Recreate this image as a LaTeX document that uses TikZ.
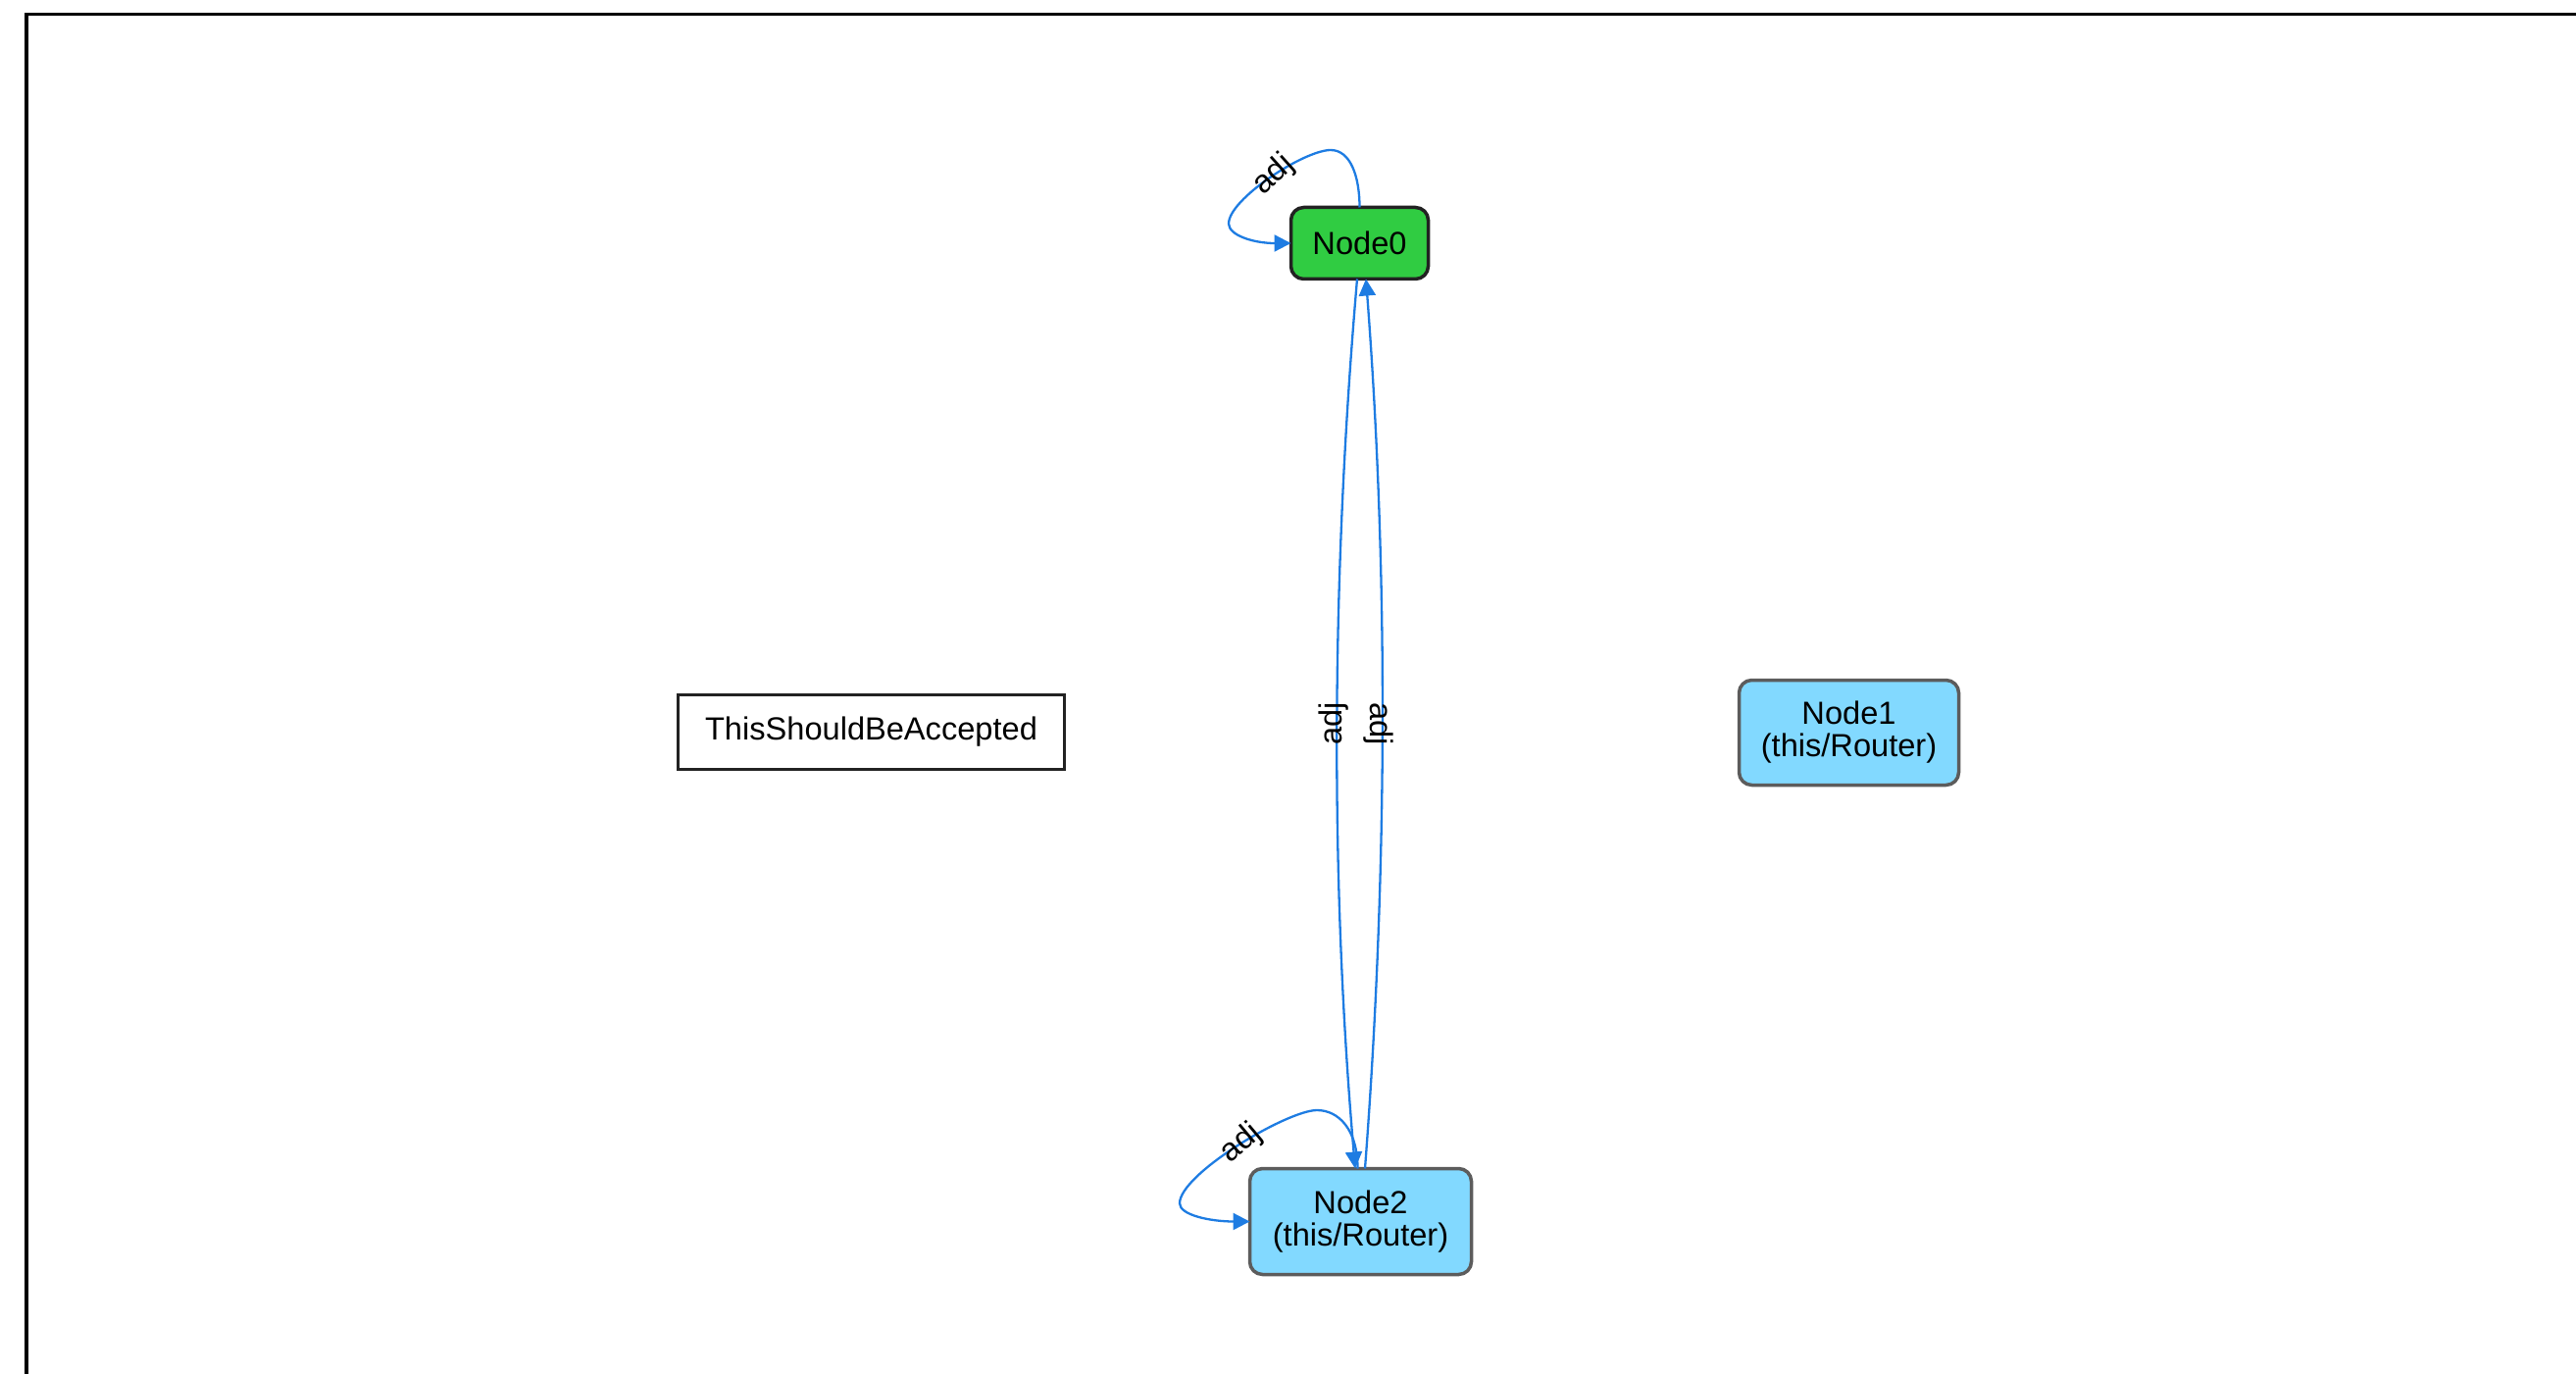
\documentclass[tikz,border=0pt]{standalone}
\usepackage{fontspec}
\setmainfont{Liberation Sans}
\usetikzlibrary{arrows.meta,calc}

\definecolor{edgeblue}{RGB}{30,124,226}
\definecolor{nodegreen}{RGB}{48,204,66}
\definecolor{routerblue}{RGB}{130,217,255}
\definecolor{darkborder}{RGB}{34,34,34}
\definecolor{grayborder}{RGB}{92,92,92}

\begin{document}
\begin{tikzpicture}[x=0.5pt,y=-0.5pt,
  font=\fontsize{16.3}{16.5}\selectfont,
  every node/.style={inner sep=0pt, outer sep=0pt},
  nodebox/.style={line width=1.75pt, rounded corners=6.5pt, align=center},
  startbox/.style={nodebox, draw=darkborder, fill=nodegreen},
  routerbox/.style={nodebox, draw=grayborder, fill=routerblue},
  plainbox/.style={draw=darkborder, line width=1.75pt, fill=white, align=center},
  edge/.style={draw=edgeblue, line width=1.15pt, -{Triangle[length=8.5pt,width=8.5pt]}},
  lbl/.style={text=black}
]
\useasboundingbox (0,0) rectangle (2627,1401);

% open frame: left and top rules
\draw[line width=1.9pt] (27,1401) -- (27,14.5) -- (2627,14.5);

% nodes
\node[startbox, minimum width=70pt, minimum height=36.5pt] (n0) at (1386.5,248) {Node0};
\node[routerbox, minimum width=113pt, minimum height=54pt] (n2) at (1387.5,1245.5) {Node2\\(this/Router)};
\node[routerbox, minimum width=112pt, minimum height=53.5pt] (n1) at (1885.5,747) {Node1\\(this/Router)};
\node[plainbox, minimum width=197pt, minimum height=38pt] (acc) at (888.5,746.5) {ThisShouldBeAccepted};

% self loop on Node0
\draw[edge] (n0.north)
  .. controls +(0,-32) and +(20,0) .. ++(-29.5,-58.5)
  .. controls +(-27,0) and +(0,-25) .. ++(-104,75)
     node[lbl, pos=0.47, rotate=42] {adj}
  .. controls +(0,12) and +(-38,0) .. (n0.west);

% self loop on Node2
\draw[edge] ($(n2.north)+(-3,0)$)
  .. controls +(0,-40) and +(22,0) .. ++(-41.5,-59.5)
  .. controls +(-30,0) and +(0,-30) .. ++(-140,95)
     node[lbl, pos=0.48, rotate=40] {adj}
  .. controls +(0,12) and +(-40,0) .. (n2.west);

% Node0 -> Node2
\draw[edge] ($(n0.south)+(-2.5,0)$)
  .. controls +(-26,300) and +(-26,-300) .. ($(n2.north)+(-5.5,0)$)
  node[lbl, pos=0.5, xshift=-1.5pt, rotate=90] {adj};

% Node2 -> Node0
\draw[edge] ($(n2.north)+(4.5,0)$)
  .. controls +(23,-300) and +(23,300) .. ($(n0.south)+(6.5,0)$)
  node[lbl, pos=0.5, xshift=-2pt, rotate=-90] {adj};

\end{tikzpicture}
\end{document}
